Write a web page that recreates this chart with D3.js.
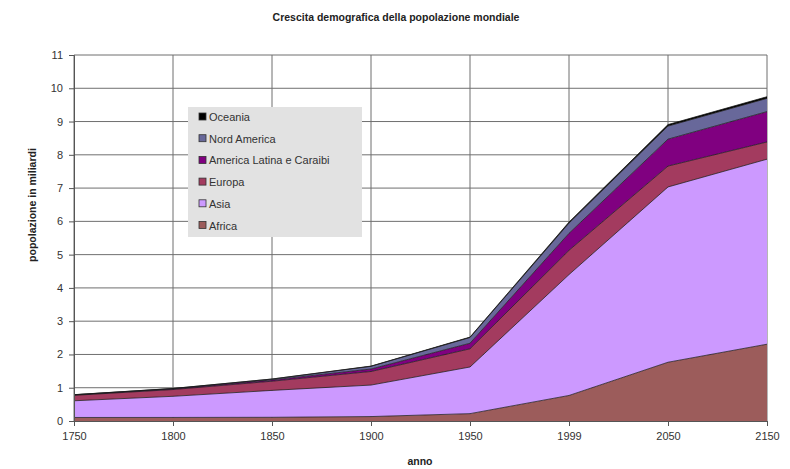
<!DOCTYPE html>
<html>
<head>
<meta charset="utf-8">
<script src="https://cdn.jsdelivr.net/npm/d3@7"></script>
<style>
  body { margin: 0; background: #fff; }
  svg { display: block; font-family: Arial, "Liberation Sans", sans-serif; }
</style>
</head>
<body>
<svg id="chart" width="790" height="469"></svg>
<script>
// World population by continent, millions of people
const years = ["1750", "1800", "1850", "1900", "1950", "1999", "2050", "2150"];
const africa       = [106, 107, 111, 133, 221, 767, 1766, 2308];
const asia         = [502, 635, 809, 947, 1402, 3634, 5268, 5561];
const europe       = [163, 203, 276, 408, 547, 729, 628, 517];
const latinAmerica = [16, 24, 38, 74, 167, 511, 809, 912];
const northAmerica = [2, 7, 26, 82, 172, 307, 392, 398];
const oceania      = [2, 2, 2, 6, 13, 30, 46, 51];

const seriesNames = ["Africa", "Asia", "Europa", "America Latina e Caraibi", "Nord America", "Oceania"];
const seriesValues = [africa, asia, europe, latinAmerica, northAmerica, oceania];
const seriesColors = ["#9c5c5b", "#cc99ff", "#a33b5f", "#800080", "#68689a", "#000000"];
const yTicks = d3.range(0, 12);

const svg = d3.select("#chart");
const margin = { left: 74, right: 23, top: 55, bottom: 48 };
const W = 790, H = 469;

// Rows keyed by series name, values in billions
const rows = years.map((y, i) => {
  const r = { year: y };
  seriesNames.forEach((n, k) => { r[n] = seriesValues[k][i] / 1000; });
  return r;
});

const x = d3.scalePoint().domain(years).range([margin.left, W - margin.right]);
const y = d3.scaleLinear().domain([0, 11]).range([H - margin.bottom, margin.top]);

const stack = d3.stack().keys(seriesNames);
const layers = stack(rows);

// Gridlines
svg.append("g").selectAll("line").data(yTicks).join("line")
  .attr("x1", margin.left).attr("x2", W - margin.right)
  .attr("y1", d => y(d)).attr("y2", d => y(d))
  .attr("stroke", "#6f6f6f").attr("stroke-width", 1);
svg.append("g").selectAll("line").data(years).join("line")
  .attr("x1", d => x(d)).attr("x2", d => x(d))
  .attr("y1", y(0)).attr("y2", y(11))
  .attr("stroke", "#6f6f6f").attr("stroke-width", 1);

// Stacked areas
const area = d3.area()
  .x(d => x(d.data.year))
  .y0(d => y(d[0]))
  .y1(d => y(d[1]));
const topLine = d3.line()
  .x(d => x(d.data.year))
  .y(d => y(d[1]));

svg.append("g").selectAll("path").data(layers).join("path")
  .attr("d", area)
  .attr("fill", (d, i) => seriesColors[i]);
svg.append("g").selectAll("path").data(layers).join("path")
  .attr("d", topLine)
  .attr("fill", "none")
  .attr("stroke", "#1a1a1a")
  .attr("stroke-opacity", 0.75)
  .attr("stroke-width", 1);

// Axes
const yAxis = d3.axisLeft(y).tickValues(yTicks).tickSize(5).tickPadding(6).tickFormat(d3.format("d"));
const gy = svg.append("g").attr("transform", `translate(${margin.left},0)`).call(yAxis);
const xAxis = d3.axisBottom(x).tickSize(5).tickPadding(6);
const gx = svg.append("g").attr("transform", `translate(0,${y(0)})`).call(xAxis);
[gx, gy].forEach(g => {
  g.select(".domain").attr("stroke", "#555");
  g.selectAll(".tick line").attr("stroke", "#555");
  g.selectAll(".tick text").attr("fill", "#333").attr("font-size", 11);
});

// Titles
svg.append("text").attr("x", 396).attr("y", 21).attr("text-anchor", "middle")
  .attr("font-size", 10.5).attr("font-weight", "bold").attr("fill", "#222")
  .text("Crescita demografica della popolazione mondiale");
svg.append("text").attr("x", 420).attr("y", 465).attr("text-anchor", "middle")
  .attr("font-size", 10.5).attr("font-weight", "bold").attr("fill", "#222")
  .text("anno");
svg.append("text").attr("transform", "translate(36,205) rotate(-90)").attr("text-anchor", "middle")
  .attr("font-size", 10.5).attr("font-weight", "bold").attr("fill", "#222")
  .text("popolazione in miliardi");

// Legend, top series listed first
const legend = svg.append("g").attr("transform", "translate(188,107)");
legend.append("rect").attr("width", 174).attr("height", 130).attr("fill", "#e2e2e2");
const legendOrder = seriesNames.map((n, i) => ({ name: n, color: seriesColors[i] })).reverse();
const items = legend.selectAll("g.item").data(legendOrder).join("g")
  .attr("class", "item")
  .attr("transform", (d, i) => `translate(11,${10 + i * 21.7})`);
items.append("rect").attr("x", 0).attr("y", -4).attr("width", 7).attr("height", 7)
  .attr("fill", d => d.color).attr("stroke", "#333").attr("stroke-width", 0.8);
items.append("text").attr("x", 10).attr("y", 4).attr("font-size", 11).attr("fill", "#333")
  .text(d => d.name);
</script>
</body>
</html>
